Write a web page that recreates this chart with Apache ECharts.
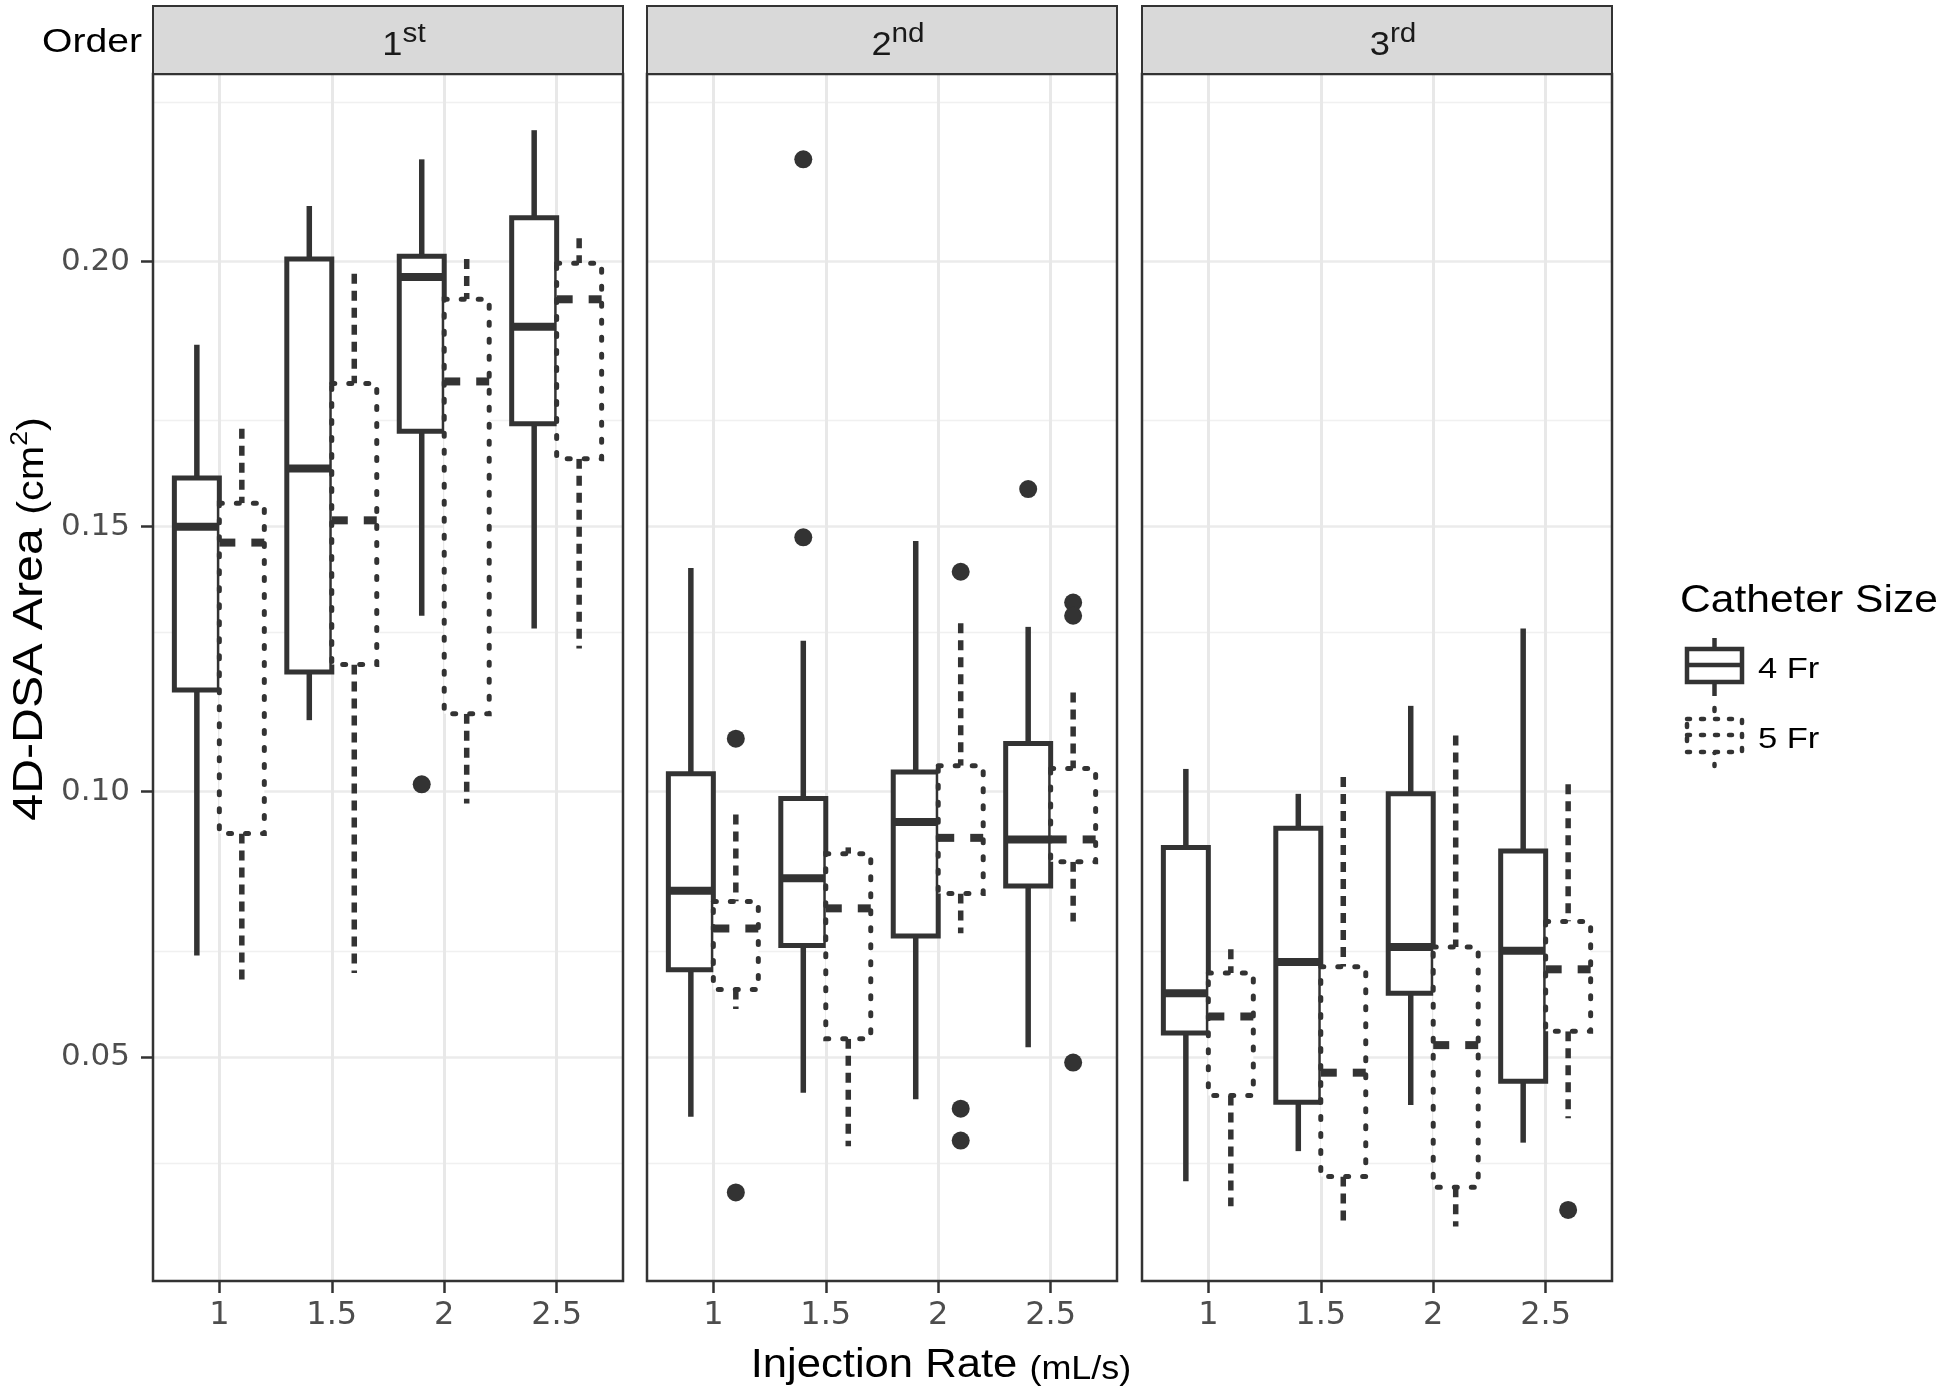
<!DOCTYPE html>
<html><head><meta charset="utf-8">
<script src="https://cdn.jsdelivr.net/npm/echarts@6/dist/echarts.min.js"></script>
<style>html,body{margin:0;padding:0;background:#fff}#c{width:1946px;height:1393px}</style>
</head><body><div id="c"></div>
<script>
// ---------------- data ----------------
const panelLabels = [['1', 'st'], ['2', 'nd'], ['3', 'rd']];
const rates = [1, 1.5, 2, 2.5];
const rateTickLabels = ['1', '1.5', '2', '2.5'];
const areaTicks = [0.05, 0.10, 0.15, 0.20];
const areaTickLabels = ['0.05', '0.10', '0.15', '0.20'];
const areaMinorTicks = [0.025, 0.075, 0.125, 0.175, 0.225];
const catheterSizes = ['4 Fr', '5 Fr'];

// five-number summaries [min, Q1, median, Q3, max], one row per injection rate
const first4Fr  = [[0.0691,0.1192,0.1500,0.1592,0.1843],[0.1135,0.1226,0.1610,0.2005,0.2105],[0.1332,0.1680,0.1971,0.2010,0.2193],[0.1308,0.1694,0.1877,0.2083,0.2248]];
const first5Fr  = [[0.0642,0.0921,0.1470,0.1544,0.1685],[0.0658,0.1240,0.1512,0.1770,0.1977],[0.0978,0.1147,0.1774,0.1929,0.2005],[0.1270,0.1628,0.1929,0.1997,0.2044]];
const second4Fr = [[0.0387,0.0664,0.0813,0.1034,0.1422],[0.0432,0.0710,0.0837,0.0987,0.1285],[0.0420,0.0728,0.0943,0.1037,0.1473],[0.0518,0.0822,0.0910,0.1091,0.1311]];
const second5Fr = [[0.0590,0.0627,0.0742,0.0793,0.0957],[0.0331,0.0534,0.0780,0.0883,0.0895],[0.0733,0.0808,0.0913,0.1049,0.1318],[0.0755,0.0868,0.0910,0.1044,0.1187]];
const third4Fr  = [[0.0265,0.0545,0.0620,0.0895,0.1043],[0.0322,0.0414,0.0679,0.0931,0.0996],[0.0409,0.0620,0.0707,0.0996,0.1162],[0.0338,0.0454,0.0700,0.0888,0.1308]];
const third5Fr  = [[0.0218,0.0427,0.0576,0.0658,0.0703],[0.0180,0.0274,0.0470,0.0670,0.1028],[0.0180,0.0254,0.0522,0.0707,0.1106],[0.0384,0.0548,0.0665,0.0755,0.1014]];

// outliers [injection rate, area]
const first4FrOut  = [[2, 0.1014]];
const first5FrOut  = [];
const second4FrOut = [[1.5, 0.2193], [1.5, 0.1480], [2.5, 0.1571]];
const second5FrOut = [[1, 0.1100], [1, 0.0244], [2, 0.1415], [2, 0.0402], [2, 0.0342], [2.5, 0.1357], [2.5, 0.1332], [2.5, 0.0489]];
const third4FrOut  = [];
const third5FrOut  = [[2.5, 0.0211]];

const stats4Fr = [first4Fr, second4Fr, third4Fr];
const stats5Fr = [first5Fr, second5Fr, third5Fr];
const out4Fr = [first4FrOut, second4FrOut, third4FrOut];
const out5Fr = [first5FrOut, second5FrOut, third5FrOut];

// ---------------- layout / style ----------------
const GRID_LEFT = [153, 647, 1142];
const GRID_W = 470, GRID_TOP = 74, GRID_H = 1207;
const STRIP_TOP = 6;
const X_MIN = 0.705, X_MAX = 2.795;
const Y_MIN = 0.0077, Y_MAX = 0.2354;
const DODGE = 0.1, HALF = 0.1;
const INK = '#333333';
const TFONT = '"Liberation Sans", Arial, Helvetica, sans-serif';
const AFONT = '"DejaVu Sans", sans-serif';

function boxRenderer(offset, dotted) {
  return function (params, api) {
    const x = api.value(0) + offset;
    const lo = api.value(1), q1 = api.value(2), med = api.value(3), q3 = api.value(4), hi = api.value(5);
    const tl = api.coord([x - HALF, q3]);
    const br = api.coord([x + HALF, q1]);
    const pHi = api.coord([x, hi]);
    const pLo = api.coord([x, lo]);
    const pm = api.coord([x - HALF, med]);
    const boxStyle = dotted
      ? { fill: '#ffffff', stroke: INK, lineWidth: 5, lineDash: [3, 14], lineCap: 'round' }
      : { fill: '#ffffff', stroke: INK, lineWidth: 5 };
    const whStyle = dotted
      ? { stroke: INK, lineWidth: 5.5, lineDash: [10, 7] }
      : { stroke: INK, lineWidth: 5.5 };
    return {
      type: 'group',
      children: [
        { type: 'line', shape: { x1: pHi[0], y1: pHi[1], x2: pHi[0], y2: tl[1] }, style: whStyle },
        { type: 'line', shape: { x1: pLo[0], y1: br[1], x2: pLo[0], y2: pLo[1] }, style: whStyle },
        { type: 'rect', shape: { x: tl[0], y: tl[1], width: br[0] - tl[0], height: br[1] - tl[1] }, style: boxStyle },
        { type: 'line', shape: { x1: tl[0], y1: pm[1], x2: br[0], y2: pm[1] },
          style: { stroke: INK, lineWidth: 8, lineDash: dotted ? [16, 16] : null } }
      ]
    };
  };
}
function outlierRenderer(offset) {
  return function (params, api) {
    const p = api.coord([api.value(0) + offset, api.value(1)]);
    return { type: 'circle', shape: { cx: p[0], cy: p[1], r: 9 }, style: { fill: INK } };
  };
}

const grids = [], xAxes = [], yAxes = [], series = [], graphics = [];
for (let i = 0; i < 3; i++) {
  grids.push({ left: GRID_LEFT[i], top: GRID_TOP, width: GRID_W, height: GRID_H, show: false });
  xAxes.push({
    type: 'value', gridIndex: i, min: X_MIN, max: X_MAX,
    axisLine: { show: false },
    axisTick: { show: true, customValues: rates, length: 12, lineStyle: { color: INK, width: 2.5 } },
    axisLabel: { show: true, customValues: rates, margin: 19, fontSize: 32, fontFamily: AFONT, color: '#4d4d4d',
      formatter: v => rateTickLabels[rates.indexOf(v)] },
    splitLine: { show: false }
  });
  yAxes.push({
    type: 'value', gridIndex: i, min: Y_MIN, max: Y_MAX,
    axisLine: { show: false },
    axisTick: { show: i === 0, customValues: areaTicks, length: 12, lineStyle: { color: INK, width: 2.5 } },
    axisLabel: { show: i === 0, customValues: areaTicks, margin: 23, fontSize: 31, fontFamily: AFONT, color: '#4d4d4d',
      formatter: v => areaTickLabels[areaTicks.indexOf(v)] },
    splitLine: { show: false }
  });
  // grid lines
  series.push({
    type: 'line', xAxisIndex: i, yAxisIndex: i, data: [], z: 1, silent: true,
    markLine: {
      silent: true, symbol: ['none', 'none'], label: { show: false }, animation: false,
      lineStyle: { type: 'solid', color: '#ebebeb', width: 2.5 },
      emphasis: { disabled: true },
      data: [
        ...areaMinorTicks.map(v => ({ yAxis: v, lineStyle: { type: 'solid', color: '#f0f0f0', width: 1.3 } })),
        ...areaTicks.map(v => ({ yAxis: v, lineStyle: { type: 'solid', color: '#ebebeb', width: 2.5 } })),
        ...rates.map(v => ({ xAxis: v, lineStyle: { type: 'solid', color: '#e8e8e8', width: 3 } }))
      ]
    }
  });
  series.push({
    type: 'custom', name: catheterSizes[0], xAxisIndex: i, yAxisIndex: i, z: 5, silent: true,
    renderItem: boxRenderer(-DODGE, false),
    encode: { x: 0, y: [1, 2, 3, 4, 5] },
    data: rates.map((r, k) => [r].concat(stats4Fr[i][k]))
  });
  series.push({
    type: 'custom', name: catheterSizes[1], xAxisIndex: i, yAxisIndex: i, z: 6, silent: true,
    renderItem: boxRenderer(DODGE, true),
    encode: { x: 0, y: [1, 2, 3, 4, 5] },
    data: rates.map((r, k) => [r].concat(stats5Fr[i][k]))
  });
  series.push({
    type: 'custom', xAxisIndex: i, yAxisIndex: i, z: 7, silent: true,
    renderItem: outlierRenderer(-DODGE), encode: { x: 0, y: 1 }, data: out4Fr[i]
  });
  series.push({
    type: 'custom', xAxisIndex: i, yAxisIndex: i, z: 7, silent: true,
    renderItem: outlierRenderer(DODGE), encode: { x: 0, y: 1 }, data: out5Fr[i]
  });

  // panel border
  graphics.push({ type: 'rect', z: 100, silent: true,
    shape: { x: GRID_LEFT[i], y: GRID_TOP, width: GRID_W, height: GRID_H },
    style: { fill: null, stroke: INK, lineWidth: 2.5 } });
  // strip
  graphics.push({ type: 'rect', z: 100, silent: true,
    shape: { x: GRID_LEFT[i], y: STRIP_TOP, width: GRID_W, height: GRID_TOP - STRIP_TOP },
    style: { fill: '#d9d9d9', stroke: INK, lineWidth: 2 } });
  graphics.push({ type: 'text', z: 101, silent: true,
    x: GRID_LEFT[i] + GRID_W / 2 + 16, y: 21, scaleX: 1.1,
    style: { text: '{b|' + panelLabels[i][0] + '}{s|' + panelLabels[i][1] + '}',
      align: 'center', textAlign: 'center', verticalAlign: 'top', textVerticalAlign: 'top',
      fill: '#1a1a1a',
      rich: {
        b: { fontSize: 33, lineHeight: 41, fontFamily: TFONT, fill: '#1a1a1a', verticalAlign: 'bottom' },
        s: { fontSize: 27, lineHeight: 27, fontFamily: TFONT, fill: '#1a1a1a', verticalAlign: 'top' }
      } } });
}

// "Order" strip title
graphics.push({ type: 'text', z: 101, silent: true, x: 142, y: 43, scaleX: 1.15,
  style: { text: 'Order', fontSize: 34, fontFamily: TFONT, fill: '#000',
    align: 'right', textAlign: 'right', verticalAlign: 'middle', textVerticalAlign: 'middle' } });

// axis titles
graphics.push({ type: 'text', z: 101, silent: true, x: 941, y: 1366, scaleX: 1.09,
  style: { text: '{a|Injection Rate }{b|(mL/s)}', align: 'center', textAlign: 'center',
    verticalAlign: 'middle', textVerticalAlign: 'middle',
    rich: { a: { fontSize: 40, lineHeight: 40, fontFamily: TFONT, fill: '#000', verticalAlign: 'bottom' },
            b: { fontSize: 33, lineHeight: 33, fontFamily: TFONT, fill: '#000', verticalAlign: 'bottom' } } } });
graphics.push({ type: 'text', z: 101, silent: true, x: 30, y: 619, rotation: Math.PI / 2, scaleX: 1.15,
  style: { text: '{a|4D-DSA Area }{b|(cm}{s|2}{b|)}', align: 'center', textAlign: 'center',
    verticalAlign: 'middle', textVerticalAlign: 'middle',
    rich: { a: { fontSize: 42, lineHeight: 42, fontFamily: TFONT, fill: '#000', verticalAlign: 'bottom' },
            b: { fontSize: 36, lineHeight: 36, fontFamily: TFONT, fill: '#000', verticalAlign: 'bottom' },
            s: { fontSize: 23, lineHeight: 23, fontFamily: TFONT, fill: '#000', verticalAlign: 'top' } } } });

// legend
graphics.push({ type: 'text', z: 101, silent: true, x: 1680, y: 602, scaleX: 1.12,
  style: { text: 'Catheter Size', fontSize: 38, fontFamily: TFONT, fill: '#000',
    align: 'left', textAlign: 'left', verticalAlign: 'middle', textVerticalAlign: 'middle' } });
const keyY = [665, 735];
catheterSizes.forEach((lab, k) => {
  const dotted = k === 1;
  const dash = dotted ? [3, 11] : null;
  const cap = dotted ? 'round' : 'butt';
  const cy = keyY[k];
  graphics.push({ type: 'line', z: 101, silent: true, shape: { x1: 1714.5, y1: cy - 27, x2: 1714.5, y2: cy + 31 },
    style: { stroke: INK, lineWidth: 4.5, lineDash: dash, lineCap: cap } });
  graphics.push({ type: 'rect', z: 102, silent: true, shape: { x: 1687, y: cy - 16, width: 55, height: 33 },
    style: { fill: '#fff', stroke: INK, lineWidth: 4.5, lineDash: dash, lineCap: cap } });
  graphics.push({ type: 'line', z: 103, silent: true, shape: { x1: 1687, y1: cy, x2: 1742, y2: cy },
    style: { stroke: INK, lineWidth: 4.5, lineDash: dash, lineCap: cap } });
  graphics.push({ type: 'text', z: 101, silent: true, x: 1758, y: cy + 5, scaleX: 1.15,
    style: { text: lab, fontSize: 30, fontFamily: TFONT, fill: '#000',
      align: 'left', textAlign: 'left', verticalAlign: 'middle', textVerticalAlign: 'middle' } });
});

const chart = echarts.init(document.getElementById('c'), null, { renderer: 'canvas' });
chart.setOption({
  animation: false,
  backgroundColor: '#ffffff',
  grid: grids, xAxis: xAxes, yAxis: yAxes, series: series,
  graphic: { elements: graphics }
});
</script></body></html>
